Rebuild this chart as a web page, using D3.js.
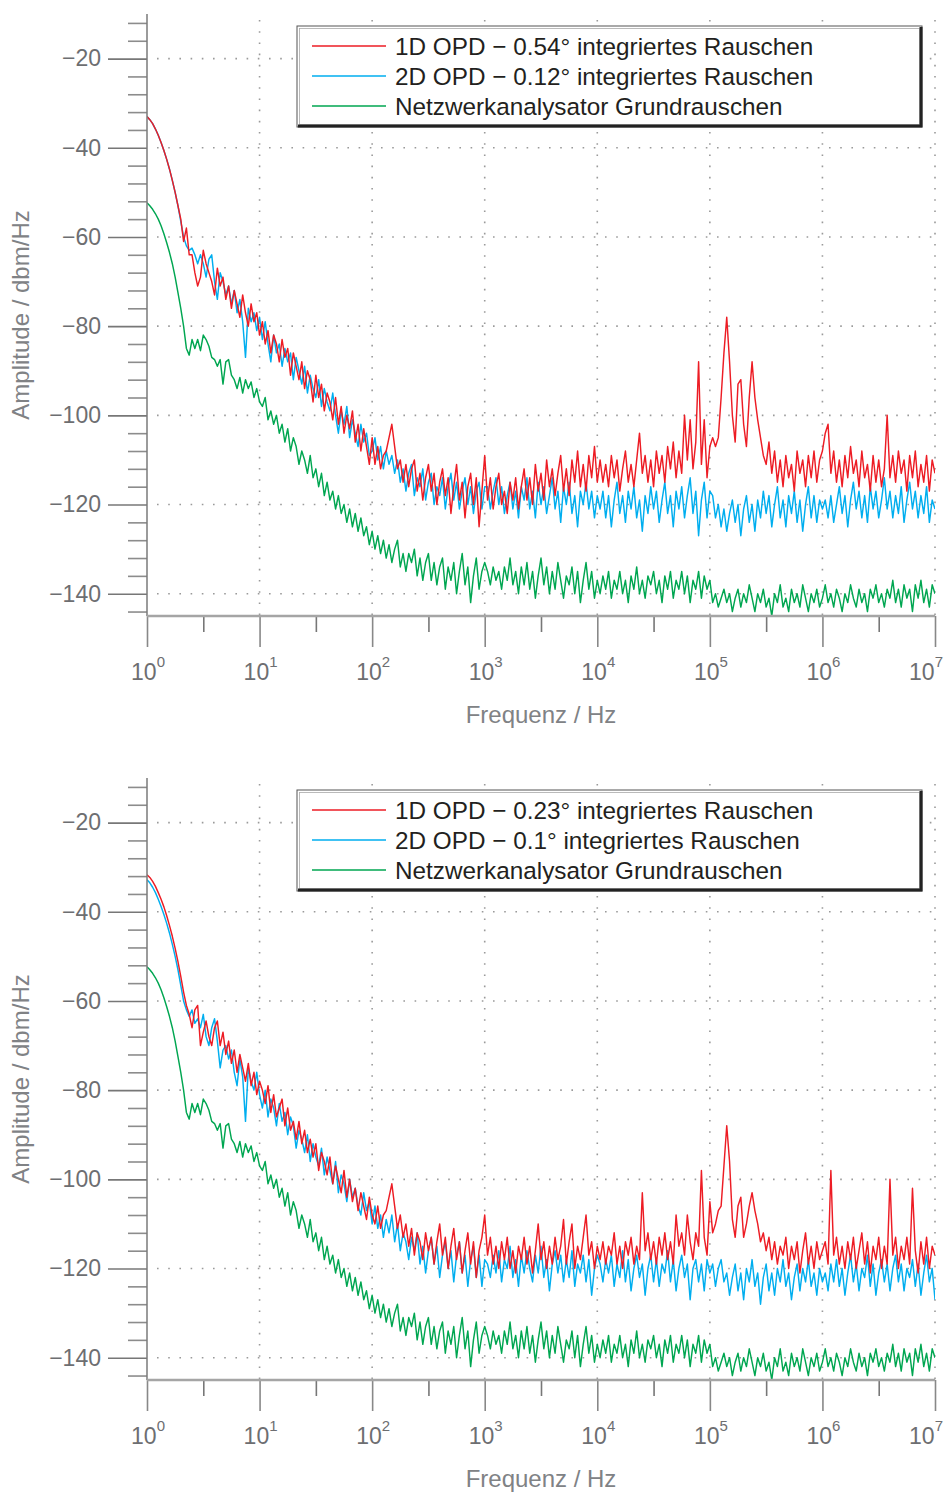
<!DOCTYPE html>
<html>
<head>
<meta charset="utf-8">
<script src="https://cdn.jsdelivr.net/npm/d3@7/dist/d3.min.js"></script>
<style>
  body { margin: 0; background: #fff; }
  svg { display: block; font-family: "Liberation Sans", Arial, sans-serif; }
</style>
</head>
<body>
<div id="chart"></div>
<script>
// Spektren : Frequenz-Sweep 1 Hz .. 10 MHz, 40 Punkte pro Dekade (Index i -> 10^(i/40) Hz)
const PER_DECADE = 40;
const decades = [0, 1, 2, 3, 4, 5, 6, 7];
const yMajor = [-20, -40, -60, -80, -100, -120, -140];
const legendTop = [
  "1D OPD \u2212 0.54\u00b0 integriertes Rauschen",
  "2D OPD \u2212 0.12\u00b0 integriertes Rauschen",
  "Netzwerkanalysator Grundrauschen"
];
const legendBottom = [
  "1D OPD \u2212 0.23\u00b0 integriertes Rauschen",
  "2D OPD \u2212 0.1\u00b0 integriertes Rauschen",
  "Netzwerkanalysator Grundrauschen"
];

// oberes Diagramm, 1D OPD (dBm/Hz)
const top1D = [
  -33, -33.7, -34.6, -35.8, -37.2, -38.8, -40.6, -42.6, -44.8, -47.3, -50, -53, -56, -61,
  -58, -64, -64, -68, -71, -69, -63, -66, -68, -70, -73, -67, -71, -69, -74, -71, -76, -72, -75, -78, -73, -77, -80, -75, -79, -77, -82,
  -79, -84, -81, -86, -82, -84, -88, -83, -87, -85, -91, -86, -89, -92, -88, -94, -90, -92, -97, -91,
  -96, -93, -99, -95, -97, -101, -96, -102, -98, -104, -100, -103, -99, -106, -102, -108, -103, -107, -111, -105,
  -111, -107, -112, -109, -108, -105, -102, -107, -112, -110, -115, -111, -116, -112, -110, -117, -113, -119, -114, -111,
  -117, -113, -120, -115, -112, -118, -114, -122, -116, -111, -119, -115, -123, -116, -113, -120, -114, -125, -117, -109,
  -119, -114, -121, -116, -113, -120, -117, -122, -115, -119, -114, -121, -116, -112, -119, -114, -120, -111, -117, -113,
  -119, -110, -116, -112, -118, -113, -109, -117, -112, -118, -110, -115, -108, -116, -111, -117, -109, -114, -107, -115,
  -110, -115, -111, -116, -109, -114, -110, -117, -112, -108, -115, -111, -116, -110, -104, -113, -109, -115, -110, -116,
  -108, -113, -109, -115, -107, -112, -106, -114, -108, -113, -100, -110, -101, -112, -106, -88, -111, -101, -114, -107,
  -105, -107, -105, -96, -86, -78, -88, -100, -106, -93, -92, -102, -107, -96, -88, -96, -101, -105, -109, -111,
  -106, -113, -108, -115, -110, -116, -109, -114, -111, -117, -108, -113, -110, -116, -109, -114, -108, -115, -110, -108,
  -104, -102, -113, -108, -115, -110, -116, -109, -114, -107, -113, -110, -116, -108, -114, -111, -117, -109, -115, -110,
  -116, -112, -100, -114, -109, -115, -108, -113, -110, -117, -109, -114, -108, -116, -111, -115, -109, -117, -110, -113
];

// oberes Diagramm, 2D OPD
const top2D = [
  -33, -33.7, -34.6, -35.8, -37.2, -38.8, -40.6, -42.6, -44.8, -47.3, -50, -53, -56.5, -60,
  -62, -63, -62.5, -64, -66, -64, -66, -69, -65, -64, -70, -74, -68, -70, -73, -71, -75, -72, -77, -74, -79, -87, -76, -79, -77, -81, -78,
  -83, -79, -84, -88, -82, -86, -84, -89, -85, -88, -86, -92, -87, -90, -93, -89, -95, -91, -94, -96,
  -92, -98, -94, -97, -99, -95, -100, -104, -99, -102, -98, -105, -101, -104, -107, -102, -106, -104, -109, -108,
  -105, -110, -107, -112, -108, -111, -109, -113, -110, -115, -112, -117, -113, -111, -118, -114, -116, -112, -119, -115,
  -113, -120, -116, -118, -114, -121, -116, -113, -119, -115, -121, -117, -114, -120, -116, -122, -117, -115, -121, -116,
  -116, -121, -117, -114, -120, -116, -122, -118, -115, -121, -117, -123, -116, -119, -114, -121, -117, -123, -115, -120,
  -116, -122, -118, -114, -121, -117, -124, -116, -120, -115, -122, -118, -125, -117, -120, -115, -121, -117, -123, -118,
  -121, -117, -123, -118, -125, -119, -115, -122, -118, -124, -117, -121, -116, -123, -119, -126, -118, -122, -116, -121,
  -117, -124, -119, -115, -122, -118, -125, -117, -121, -116, -123, -118, -114, -122, -117, -127, -119, -115, -123, -117,
  -118, -123, -120, -125, -121, -126, -122, -119, -124, -120, -127, -121, -118, -124, -120, -126, -119, -123, -117, -122,
  -118, -125, -120, -116, -123, -119, -125, -118, -122, -117, -124, -119, -126, -120, -116, -123, -118, -124, -119, -121,
  -119, -123, -118, -124, -120, -116, -122, -118, -125, -119, -115, -121, -117, -123, -118, -124, -116, -121, -117, -123,
  -119, -114, -121, -117, -123, -118, -122, -116, -124, -119, -115, -121, -117, -123, -118, -122, -116, -124, -119, -121
];

// Grundrauschen des Netzwerkanalysators (in beiden Messungen gleich)
const floorNA = [
  -52.3, -53, -53.8, -54.8, -56, -57.5, -59.3, -61.3, -63.5, -66, -69, -72.5, -76, -80, -85,
  -86.5, -83, -85, -83, -85.5, -82, -83, -84.5, -87, -87.5, -89, -87.5, -93, -88, -87.5, -91, -92, -94, -91.5, -95, -92, -94, -92.5, -96, -94, -97,
  -98, -96, -101, -99, -102, -100, -104, -102, -106, -103, -108, -105, -107, -111, -108, -110, -113, -109, -114, -112,
  -116, -113, -118, -115, -119, -117, -121, -118, -122, -120, -124, -121, -125, -122, -126, -123, -127, -125, -129, -126,
  -130, -127, -131, -128, -132, -129, -133, -130, -128, -134, -131, -135, -131, -133, -130, -136, -132, -137, -133, -131,
  -137, -133, -138, -134, -132, -139, -134, -137, -133, -140, -135, -131, -138, -134, -142, -136, -132, -139, -135, -133,
  -135, -138, -134, -137, -135, -139, -134, -137, -132, -138, -135, -140, -134, -138, -133, -139, -135, -141, -136, -132,
  -138, -134, -140, -135, -139, -133, -137, -141, -136, -138, -134, -140, -135, -142, -137, -133, -139, -135, -141, -137,
  -140, -136, -139, -135, -141, -137, -139, -135, -140, -137, -142, -136, -139, -134, -140, -137, -141, -136, -138, -135,
  -140, -137, -142, -136, -139, -135, -141, -137, -139, -135, -140, -136, -142, -137, -139, -135, -141, -136, -139, -137,
  -142, -140, -143, -141, -139, -142, -140, -144, -141, -139, -143, -140, -142, -138, -141, -144, -140, -142, -139, -143,
  -141, -145, -140, -142, -138, -143, -141, -144, -139, -142, -140, -143, -138, -141, -144, -140, -142, -139, -143, -141,
  -138, -142, -140, -143, -139, -141, -144, -140, -142, -138, -141, -143, -139, -142, -140, -144, -139, -141, -138, -142,
  -140, -143, -139, -141, -137, -142, -139, -143, -138, -141, -139, -144, -138, -141, -137, -142, -139, -143, -138, -140
];

// unteres Diagramm, 1D OPD
const bottom1D = [
  -31.7, -32.3, -33.2, -34.3, -35.7, -37.2, -38.9, -40.9, -43.1, -45.5, -48.2, -51.2, -54.5, -58,
  -61, -63, -66, -62, -61, -70, -67, -64.5, -68, -70, -66, -64.5, -70, -67, -72, -69, -74, -71, -76, -72, -75, -78, -74, -79, -76, -81, -78,
  -80, -83, -79, -85, -81, -86, -84, -82, -88, -84, -89, -87, -91, -87, -92, -89, -94, -91, -95, -92,
  -98, -94, -96, -99, -95, -101, -97, -100, -103, -98, -104, -100, -105, -102, -107, -103, -106, -109, -104, -108,
  -110, -106, -111, -108, -107, -104, -101, -106, -111, -108, -113, -110, -115, -111, -117, -112, -114, -118, -112, -116,
  -113, -119, -114, -110, -117, -113, -120, -115, -111, -118, -114, -121, -116, -112, -119, -114, -122, -116, -113, -108,
  -117, -113, -119, -115, -120, -114, -118, -113, -120, -116, -121, -115, -118, -113, -119, -115, -121, -116, -110, -118,
  -114, -120, -115, -119, -113, -118, -115, -109, -119, -114, -110, -120, -115, -118, -113, -108, -117, -114, -120, -115,
  -118, -114, -119, -115, -117, -112, -119, -115, -120, -114, -117, -113, -119, -115, -118, -103, -116, -112, -118, -114,
  -119, -113, -117, -112, -118, -114, -119, -108, -115, -112, -117, -108, -114, -118, -112, -115, -98, -113, -117, -105,
  -112, -110, -107, -106, -97, -88, -96, -109, -113, -106, -104, -113, -110, -106, -103, -107, -110, -114, -112, -116,
  -113, -118, -114, -119, -115, -117, -113, -120, -115, -118, -114, -121, -116, -112, -119, -115, -120, -114, -118, -116,
  -114, -119, -98, -117, -113, -119, -115, -120, -114, -118, -113, -120, -116, -112, -119, -114, -121, -115, -118, -113,
  -120, -115, -119, -100, -117, -113, -120, -115, -118, -113, -119, -102, -116, -121, -114, -119, -113, -120, -115, -117
];

// unteres Diagramm, 2D OPD
const bottom2D = [
  -32.8, -33.5, -34.5, -35.7, -37.2, -38.8, -40.6, -42.6, -44.8, -47.3, -50, -53, -56.5, -60,
  -62, -63.5, -62, -65, -64, -66, -63, -68, -70, -66, -64, -69, -75, -71, -70, -73, -71, -76, -79, -73, -77, -87, -75, -78, -80, -76, -81,
  -84, -80, -86, -82, -84, -88, -83, -87, -85, -90, -86, -88, -93, -89, -91, -94, -90, -96, -92, -95,
  -97, -93, -99, -95, -98, -101, -96, -103, -99, -101, -105, -100, -104, -102, -106, -108, -103, -107, -105, -110,
  -106, -111, -108, -113, -109, -112, -108, -114, -110, -116, -112, -114, -118, -113, -116, -112, -119, -115, -121, -116,
  -113, -119, -115, -122, -117, -114, -120, -116, -123, -117, -114, -121, -117, -124, -118, -115, -122, -117, -124, -118,
  -119, -122, -117, -121, -116, -123, -118, -120, -115, -122, -118, -124, -117, -121, -116, -120, -123, -117, -121, -115,
  -122, -118, -125, -119, -116, -121, -117, -123, -118, -122, -116, -124, -119, -121, -117, -123, -118, -126, -120, -117,
  -119, -123, -118, -121, -117, -124, -119, -122, -116, -123, -118, -125, -120, -117, -122, -119, -126, -120, -117, -123,
  -118, -124, -119, -121, -116, -123, -118, -125, -120, -117, -122, -119, -127, -120, -118, -123, -119, -125, -118, -121,
  -119, -124, -120, -118, -123, -121, -126, -122, -119, -125, -121, -127, -120, -123, -118, -124, -121, -128, -122, -119,
  -125, -121, -126, -120, -123, -118, -124, -121, -127, -122, -119, -125, -120, -123, -118, -124, -121, -126, -120, -123,
  -121, -125, -119, -123, -118, -124, -120, -126, -121, -117, -123, -119, -125, -120, -122, -117, -124, -119, -126, -121,
  -118, -123, -119, -125, -120, -117, -123, -119, -125, -120, -122, -118, -124, -119, -126, -121, -117, -123, -120, -127
];

const COLORS = { red: "#ed1c24", blue: "#00aeef", green: "#00a651" };
const legendColors = [COLORS.red, COLORS.blue, COLORS.green];

const W = 946, H = 1493;
const svg = d3.select("#chart").append("svg").attr("width", W).attr("height", H);

function drawPanel(y0, series, labels, idx) {
  const plotL = 147, plotR = 935, plotT = y0, plotB = y0 + 602;

  const x = d3.scaleLog().domain([1, 1e7]).range([plotL, plotR]);
  const y = d3.scaleLinear().domain([-145, -10]).range([plotB, plotT]);

  const g = svg.append("g");

  // --- Gitter (gepunktet) ---
  const grid = g.append("g")
    .attr("stroke", "#9a9a9a")
    .attr("stroke-width", 1.6)
    .attr("stroke-dasharray", "1.6 9.6");
  grid.selectAll("line.h")
    .data(yMajor)
    .enter().append("line")
    .attr("x1", plotL + 10).attr("x2", plotR)
    .attr("y1", (d) => y(d)).attr("y2", (d) => y(d));
  grid.selectAll("line.v")
    .data(decades.slice(1))
    .enter().append("line")
    .attr("x1", (d) => x(Math.pow(10, d))).attr("x2", (d) => x(Math.pow(10, d)))
    .attr("y1", plotT + 6).attr("y2", plotB);

  // --- Daten ---
  const clipId = "clip" + idx;
  svg.append("clipPath").attr("id", clipId)
    .append("rect").attr("x", plotL).attr("y", plotT).attr("width", plotR - plotL).attr("height", plotB - plotT);

  const line = d3.line()
    .x((d, i) => x(Math.pow(10, i / PER_DECADE)))
    .y((d) => y(d));

  const data = g.append("g").attr("clip-path", `url(#${clipId})`);
  series.forEach((s) => {
    data.append("path")
      .datum(s.values)
      .attr("fill", "none")
      .attr("stroke", s.color)
      .attr("stroke-width", 1.45)
      .attr("stroke-linejoin", "round")
      .attr("d", line);
  });

  // --- Y-Achse ---
  const minorY = d3.range(-144, -10, 4).filter((v) => v % 20 !== 0);
  g.append("g")
    .attr("transform", `translate(${plotL},0)`)
    .call(d3.axisLeft(y).tickValues(minorY).tickSize(19).tickFormat(""))
    .call((a) => a.select(".domain").remove())
    .selectAll("line").attr("stroke", "#8c8c8c").attr("stroke-width", 1.6);

  const yAx = g.append("g")
    .attr("transform", `translate(${plotL},0)`)
    .call(d3.axisLeft(y).tickValues(yMajor).tickSize(39).tickPadding(7)
      .tickFormat((d) => "\u2212" + Math.abs(d)))
    .call((a) => a.select(".domain").remove());
  yAx.selectAll("line").attr("stroke", "#777").attr("stroke-width", 1.6);
  yAx.selectAll("text")
    .attr("fill", "#6d6e71")
    .style("font-size", "23px")
    .style("font-family", "'Liberation Sans', Arial, sans-serif");

  g.append("line")
    .attr("x1", plotL).attr("x2", plotL)
    .attr("y1", plotT).attr("y2", plotB)
    .attr("stroke", "#7a7a7a").attr("stroke-width", 1.5);

  // --- X-Achse ---
  const xAx = g.append("g")
    .attr("transform", `translate(0,${plotB})`)
    .call(d3.axisBottom(x).tickValues(decades.map((d) => Math.pow(10, d))).tickSize(31).tickFormat(""))
    .call((a) => a.select(".domain").remove());
  xAx.selectAll("line").attr("stroke", "#888").attr("stroke-width", 1.6);

  const xMin = g.append("g")
    .attr("transform", `translate(0,${plotB})`)
    .call(d3.axisBottom(x).tickValues(decades.slice(0, -1).map((d) => Math.pow(10, d + 0.5))).tickSize(16).tickFormat(""))
    .call((a) => a.select(".domain").remove());
  xMin.selectAll("line").attr("stroke", "#777").attr("stroke-width", 1.6);

  g.append("line")
    .attr("x1", plotL).attr("x2", plotR)
    .attr("y1", plotB).attr("y2", plotB)
    .attr("stroke", "#a5a5a5").attr("stroke-width", 2.5);

  const last = decades[decades.length - 1];
  const lbl = g.selectAll("text.xl")
    .data(decades)
    .enter().append("text")
    .attr("class", "xl")
    .attr("x", (d) => (d === last ? 943 : x(Math.pow(10, d)) + 1))
    .attr("y", plotB + 64)
    .attr("text-anchor", (d) => (d === last ? "end" : "middle"))
    .attr("fill", "#6d6e71")
    .style("font-size", "23px");
  lbl.append("tspan").text("10");
  lbl.append("tspan").attr("dy", -13).style("font-size", "15px").text((d) => d);

  // Achsentitel
  g.append("text")
    .attr("x", (plotL + plotR) / 2)
    .attr("y", plotB + 107)
    .attr("text-anchor", "middle")
    .attr("fill", "#808285")
    .style("font-size", "24px")
    .text("Frequenz / Hz");

  g.append("text")
    .attr("transform", `translate(29,${y0 + 301}) rotate(-90)`)
    .attr("text-anchor", "middle")
    .attr("fill", "#808285")
    .style("font-size", "24px")
    .text("Amplitude / dbm/Hz");

  // --- Legende ---
  const lx = 297, ly = y0 + 12, lw = 625, lh = 101;
  const leg = g.append("g");
  leg.append("rect")
    .attr("x", lx).attr("y", ly).attr("width", lw).attr("height", lh)
    .attr("fill", "#fff").attr("stroke", "#555").attr("stroke-width", 1);
  leg.append("rect")
    .attr("x", lx + 2.5).attr("y", ly + 2.5).attr("width", lw - 5).attr("height", lh - 5)
    .attr("fill", "none").attr("stroke", "#aaa").attr("stroke-width", 0.8);
  leg.append("path")
    .attr("d", `M${lx + lw - 1},${ly + 1}V${ly + lh - 1}H${lx + 1}`)
    .attr("fill", "none").attr("stroke", "#222").attr("stroke-width", 3);

  const rows = leg.selectAll("g.row")
    .data(labels)
    .enter().append("g")
    .attr("transform", (d, i) => `translate(0,${ly + 20 + i * 30})`);
  rows.append("line")
    .attr("x1", 312).attr("x2", 386)
    .attr("stroke", (d, i) => legendColors[i]).attr("stroke-width", 1.4);
  rows.append("text")
    .attr("x", 395).attr("y", 8.5)
    .attr("fill", "#231f20")
    .style("font-size", "24.3px")
    .text((d) => d);
}

drawPanel(14, [
  { values: floorNA, color: COLORS.green },
  { values: top2D, color: COLORS.blue },
  { values: top1D, color: COLORS.red }
], legendTop, 0);

drawPanel(778, [
  { values: floorNA, color: COLORS.green },
  { values: bottom2D, color: COLORS.blue },
  { values: bottom1D, color: COLORS.red }
], legendBottom, 1);
</script>
</body>
</html>
